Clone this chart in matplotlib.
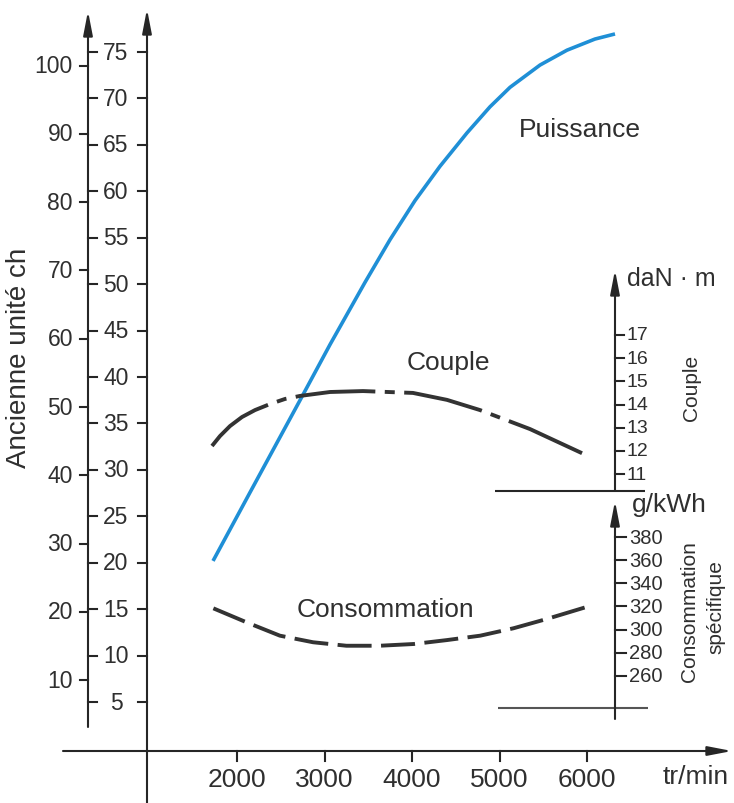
import matplotlib
matplotlib.use('Agg')
import matplotlib.pyplot as plt
from matplotlib.transforms import blended_transform_factory as btf

plt.rcParams['font.family'] = ['Liberation Sans', 'DejaVu Sans']
plt.rcParams['lines.scale_dashes'] = False

# ---------------- data ----------------
rpm_ticks = [2000, 3000, 4000, 5000, 6000]
kw_ticks = [5, 10, 15, 20, 25, 30, 35, 40, 45, 50, 55, 60, 65, 70, 75]
ch_ticks = [10, 20, 30, 40, 50, 60, 70, 80, 90, 100]
couple_ticks = [11, 12, 13, 14, 15, 16, 17]
conso_ticks = [260, 280, 300, 320, 340, 360, 380]

power_rpm = [1726, 2150, 2720, 3063, 3463, 3749, 4034, 4320, 4629, 4891, 5120,
             5463, 5771, 6091, 6320]
power_kw = [20.2, 27.6, 37.5, 43.5, 50.2, 54.8, 59.0, 62.7, 66.3, 69.1, 71.2,
            73.6, 75.2, 76.4, 76.95]

couple_rpm = [1714, 1806, 1920, 2057, 2206, 2377, 2549, 2720, 3063, 3440, 4011,
              4400, 4777, 5349, 6011]
couple_danm = [12.21, 12.64, 13.07, 13.46, 13.76, 14.02, 14.24, 14.37, 14.54,
               14.58, 14.50, 14.20, 13.76, 12.94, 11.78]

conso_rpm = [1730, 2110, 2490, 2870, 3250, 3630, 4020, 4400, 4780, 5160, 5540, 6070]
conso_gkwh = [318.4, 306.3, 294.8, 289.1, 286.1, 286.1, 287.6, 291.0, 294.8, 301.2, 309.2, 321.3]

# ---------------- figure ----------------
W, H = 734, 804
fig = plt.figure(figsize=(W / 100, H / 100), dpi=100, facecolor='white')

AX = '#262626'
TXT = '#2f2f2f'
CURVE = '#333333'
BLUE = '#1f8fd6'
XLIM = (-708.6, 7680)


def make_ax(ylim):
    a = fig.add_axes([0, 0, 1, 1], facecolor='none')
    a.set_xlim(*XLIM)
    a.set_ylim(*ylim)
    a.axis('off')
    return a


ax_kw = make_ax((-5.869, 80.713))
ax_ch = make_ax((-5.869 / 0.7355, 80.713 / 0.7355))
ax_c = make_ax((-3.197, 31.50))
ax_g = make_ax((150.3, 844.6))

FT = fig.transFigure


def fx(px):
    return px / W


def fy(py):
    return 1 - py / H


def seg(x0, y0, x1, y1, lw=1.5, color=AX):
    ax_kw.plot([fx(x0), fx(x1)], [fy(y0), fy(y1)], transform=FT, color=color,
               lw=lw, clip_on=False, solid_capstyle='butt')


def arrow(x0, y0, x1, y1):
    ax_kw.annotate('', xy=(fx(x1), fy(y1)), xycoords='figure fraction',
                   xytext=(fx(x0), fy(y0)), textcoords='figure fraction',
                   arrowprops=dict(arrowstyle='-|>,head_length=1.45,head_width=0.28',
                                   mutation_scale=10, lw=1.5, color=AX,
                                   shrinkA=0, shrinkB=0))


def text_px(x, y, s, size, **kw):
    ax_kw.text(fx(x), fy(y), s, transform=FT, fontsize=size, color=TXT, **kw)


# ---------------- axes lines ----------------
arrow(63, 752, 732, 752)       # rpm axis
arrow(147, 804, 147, 10)       # main vertical axis (kW)
arrow(88, 728, 88, 12)         # ch / kW axis
arrow(615, 492, 615, 271)      # couple axis
arrow(615, 720, 615, 502)      # consumption axis
seg(495, 492, 645, 492)
seg(498, 709, 648, 709, color='#555555')

# rpm ticks
tx = btf(ax_kw.transData, FT)
for r in rpm_ticks:
    ax_kw.plot([r, r], [fy(752), fy(762)], transform=tx, color=AX, lw=1.5, clip_on=False)
    ax_kw.text(r, fy(787), f'{r}', transform=tx, ha='center', va='baseline',
               fontsize=19, color=TXT)
text_px(663, 784, 'tr/min', 19, ha='left', va='baseline')

# kW ticks (both sides)
tk = btf(FT, ax_kw.transData)
for k in kw_ticks:
    ax_kw.plot([fx(88), fx(97)], [k, k], transform=tk, color=AX, lw=1.5, clip_on=False)
    ax_kw.plot([fx(138), fx(147)], [k, k], transform=tk, color=AX, lw=1.5, clip_on=False)
    ax_kw.text(fx(116), k, f'{k}', transform=tk, ha='center', va='center',
               fontsize=16.5, color=TXT)

# ch ticks
tch = btf(FT, ax_ch.transData)
for c in ch_ticks:
    ax_ch.plot([fx(80), fx(88)], [c, c], transform=tch, color=AX, lw=1.5, clip_on=False)
    ax_ch.text(fx(73), c, f'{c}', transform=tch, ha='right', va='center',
               fontsize=16.5, color=TXT)
text_px(19, 358, 'Ancienne unité ch', 20, rotation=90, ha='center', va='center')

# couple ticks
tc = btf(FT, ax_c.transData)
for c in couple_ticks:
    ax_c.plot([fx(615), fx(624)], [c, c], transform=tc, color=AX, lw=1.5, clip_on=False)
    ax_c.text(fx(626), c, f'{c}', transform=tc, ha='left', va='center',
              fontsize=14, color=TXT)
text_px(627, 279, 'daN · m', 18, ha='left', va='center')
text_px(692, 388, 'Couple', 15, rotation=90, ha='center', va='center')

# consumption ticks
tg = btf(FT, ax_g.transData)
for g in conso_ticks:
    ax_g.plot([fx(615), fx(626)], [g, g], transform=tg, color=AX, lw=1.5, clip_on=False)
    ax_g.text(fx(629), g, f'{g}', transform=tg, ha='left', va='center',
              fontsize=14.5, color=TXT)
text_px(632, 512, 'g/kWh', 19, ha='left', va='baseline')
text_px(690, 612, 'Consommation', 15, rotation=90, ha='center', va='center')
text_px(716, 607, 'spécifique', 15, rotation=90, ha='center', va='center')

# ---------------- curves ----------------
ax_kw.plot(power_rpm, power_kw, color=BLUE, lw=2.6, solid_capstyle='butt',
           solid_joinstyle='round', clip_on=False)
ax_c.plot(couple_rpm, couple_danm, color=CURVE, lw=2.8, solid_joinstyle='round',
          linestyle=(6.7, (57.6, 6.8, 7.2, 6.8)), dash_capstyle='butt',
          dash_joinstyle='round', clip_on=False)
ax_g.plot(conso_rpm, conso_gkwh, color=CURVE, lw=2.8,
          linestyle=(0, (24.5, 6.8)), dash_capstyle='butt',
          dash_joinstyle='round', clip_on=False)

text_px(580, 137, 'Puissance', 19, ha='center', va='baseline')
text_px(448, 370, 'Couple', 19, ha='center', va='baseline')
text_px(385, 617, 'Consommation', 19, ha='center', va='baseline')

fig.savefig('out.png', dpi=100, facecolor='white')
